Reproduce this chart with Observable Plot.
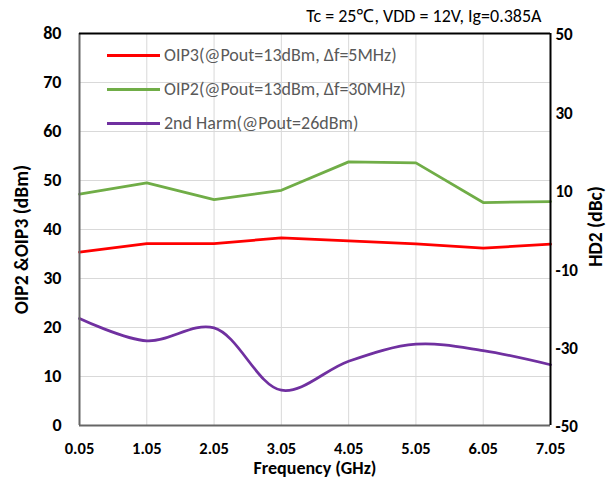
<!DOCTYPE html>
<html><head><meta charset="utf-8">
<script src="https://cdn.jsdelivr.net/npm/d3@7"></script>
<script src="https://cdn.jsdelivr.net/npm/@observablehq/plot@0.6"></script>
<style>
body{margin:0;background:#fff;}
#wrap{position:relative;width:607px;height:479px;font-family:Carlito,Lato,sans-serif;}
#legend{position:absolute;left:107px;top:38px;}
.item{display:flex;align-items:center;height:34px;}
.sw{width:53px;height:3px;margin-right:4px;}
.lbl{font-size:18px;color:#595959;white-space:nowrap;}
</style></head>
<body><div id="wrap"></div>
<script>
// ---- data ----
const freq = [0.05, 1.05, 2.05, 3.05, 4.05, 5.05, 6.05, 7.05];
const oip3 = [35.4, 37.1, 37.1, 38.3, 37.7, 37.05, 36.2, 37.0];
const oip2 = [47.2, 49.5, 46.1, 48.0, 53.8, 53.6, 45.5, 45.7];
const hd2  = [-22.7, -28.4, -25.1, -41.0, -33.6, -29.25, -30.9, -34.5];
const xTicks = [0.05, 1.05, 2.05, 3.05, 4.05, 5.05, 6.05, 7.05];
const leftTicks = [0, 10, 20, 30, 40, 50, 60, 70, 80];
const rightTicks = [-50, -30, -10, 10, 30, 50];
const seriesNames = ["OIP3(@Pout=13dBm, \u0394f=5MHz)", "OIP2(@Pout=13dBm, \u0394f=30MHz)", "2nd Harm(@Pout=26dBm)"];
const seriesColors = ["#ff0000", "#70ad47", "#7030a0"];
const title = "Tc = 25\u2103, VDD = 12V, Ig=0.385A";
const xLabel = "Frequency (GHz)";
const yLabel = "OIP2 &OIP3 (dBm)";
const y2Label = "HD2 (dBc)";

// ---- dual axis mapping ----
const lMin = leftTicks[0], lMax = leftTicks[leftTicks.length - 1];
const rMin = rightTicks[0], rMax = rightTicks[rightTicks.length - 1];
const toLeft = v => lMin + (v - rMin) * (lMax - lMin) / (rMax - rMin);
const toRight = v => rMin + (v - lMin) * (rMax - rMin) / (lMax - lMin);

const rows = freq.map((f, i) => ({f, oip3: oip3[i], oip2: oip2[i], hd2: toLeft(hd2[i])}));
const FF = "Carlito, Lato, sans-serif";

const chart = Plot.plot({
  width: 607, height: 479,
  marginLeft: 79, marginRight: 57, marginTop: 33, marginBottom: 54,
  style: {fontFamily: FF, background: "white", overflow: "visible"},
  x: {domain: [xTicks[0], xTicks[xTicks.length - 1]]},
  y: {domain: [lMin, lMax]},
  marks: [
    Plot.ruleX(xTicks, {stroke: "#d9d9d9", strokeWidth: 1}),
    Plot.ruleY(leftTicks, {stroke: "#d9d9d9", strokeWidth: 1}),
    Plot.line(rows, {x: "f", y: "oip3", stroke: seriesColors[0], strokeWidth: 2.75}),
    Plot.line(rows, {x: "f", y: "oip2", stroke: seriesColors[1], strokeWidth: 2.75}),
    Plot.line(rows, {x: "f", y: "hd2", stroke: seriesColors[2], strokeWidth: 2.75, curve: "catmull-rom"}),
    Plot.ruleX([xTicks[0]], {stroke: "#666", strokeWidth: 2}),
    Plot.ruleY([lMin], {stroke: "#666", strokeWidth: 2}),
    Plot.ruleX([xTicks[xTicks.length - 1]], {stroke: "#000", strokeWidth: 2}),
    Plot.ruleY([lMax], {stroke: "#000", strokeWidth: 2}),
    Plot.axisX(xTicks, {tickSize: 0, tickPadding: 17, tickFormat: d => d.toFixed(2), fontSize: 16.5, fontWeight: "bold", fill: "#000", label: null}),
    Plot.axisY(leftTicks, {anchor: "left", tickSize: 0, tickPadding: 18, tickFormat: d => String(d), fontSize: 18, fontWeight: "bold", fill: "#000", label: null}),
    Plot.axisY(rightTicks.map(toLeft), {anchor: "right", tickSize: 0, tickPadding: 5, tickFormat: d => String(Math.round(toRight(d))), fontSize: 17, fontWeight: "bold", fill: "#000", label: null, dy: 1.5}),
    Plot.text([xLabel], {frameAnchor: "bottom", dy: 42.5, textAnchor: "middle", lineAnchor: "middle", fontSize: 18, fontWeight: "bold", fill: "#000"}),
    Plot.text([yLabel], {frameAnchor: "left", dx: -58, dy: 10, rotate: -90, textAnchor: "middle", lineAnchor: "middle", fontSize: 19.5, fontWeight: "bold", fill: "#000"}),
    Plot.text([y2Label], {frameAnchor: "right", dx: 45, dy: -3, rotate: -90, textAnchor: "middle", lineAnchor: "middle", fontSize: 19.5, fontWeight: "bold", fill: "#000"}),
    Plot.text([title], {frameAnchor: "top-right", dx: -9, dy: -17, textAnchor: "end", lineAnchor: "middle", fontSize: 18, fill: "#000"})
  ]
});
const wrap = document.getElementById("wrap");
wrap.appendChild(chart);

const legend = document.createElement("div");
legend.id = "legend";
seriesNames.forEach((n, i) => {
  const it = document.createElement("div"); it.className = "item";
  const sw = document.createElement("span"); sw.className = "sw"; sw.style.background = seriesColors[i];
  const lb = document.createElement("span"); lb.className = "lbl"; lb.textContent = n;
  it.appendChild(sw); it.appendChild(lb); legend.appendChild(it);
});
wrap.appendChild(legend);
</script>
</body></html>
